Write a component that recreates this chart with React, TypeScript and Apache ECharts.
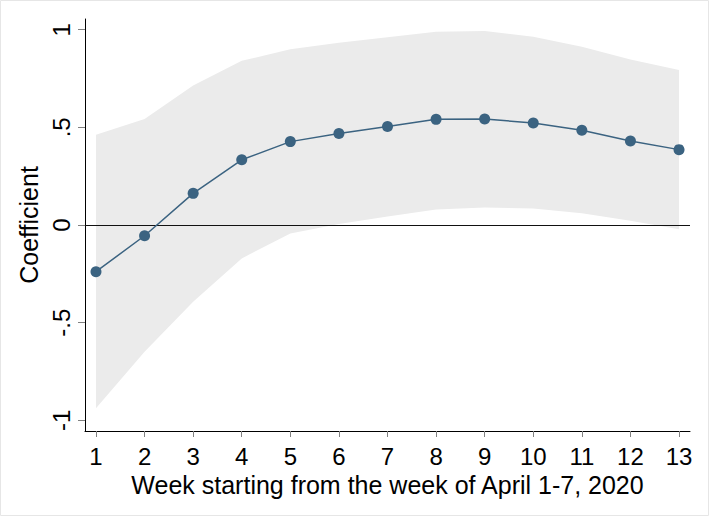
import React, { useEffect, useRef } from "react";
import * as echarts from "echarts";

const weeks = [1, 2, 3, 4, 5, 6, 7, 8, 9, 10, 11, 12, 13];
const coef = [-0.239, -0.055, 0.162, 0.334, 0.427, 0.469, 0.505, 0.541, 0.543, 0.522, 0.485, 0.43, 0.386];
const upper = [0.462, 0.543, 0.715, 0.841, 0.9, 0.933, 0.962, 0.99, 0.993, 0.964, 0.913, 0.848, 0.794];
const lower = [-0.939, -0.649, -0.393, -0.171, -0.043, 0.005, 0.043, 0.08, 0.089, 0.085, 0.06, 0.022, -0.022];
const yTicks = [-1, -0.5, 0, 0.5, 1];
const yTickLabels = ["-1", "-.5", "0", ".5", "1"];
const xTitle = "Week starting from the week of April 1-7, 2020";
const yTitle = "Coefficient";

const FONT = "'Liberation Sans', Arial, sans-serif";

export default function App() {
  const ref = useRef<HTMLDivElement>(null);
  useEffect(() => {
    if (!ref.current) return;
    const chart = echarts.init(ref.current, undefined, { renderer: "svg" });
    chart.setOption({
      animation: false,
      backgroundColor: "#ffffff",
      graphic: [
        {
          type: "rect",
          shape: { x: 0.5, y: 0.5, width: 708, height: 515 },
          style: { fill: "none", stroke: "#e6e6e6", lineWidth: 1 },
          silent: true,
        },
      ],
      grid: { left: 85, right: 19, top: 19, bottom: 85 },
      xAxis: {
        type: "value",
        min: 0.774,
        max: 13.226,
        name: xTitle,
        nameLocation: "middle",
        nameGap: 38,
        nameTextStyle: { fontFamily: FONT, fontSize: 25, color: "#000" },
        axisLine: { show: true, onZero: false, lineStyle: { color: "#000", width: 1 } },
        axisTick: { show: true, length: 6, customValues: weeks, lineStyle: { color: "#808080", width: 1 } },
        axisLabel: {
          customValues: weeks,
          margin: 13,
          fontFamily: FONT,
          fontSize: 24,
          color: "#000",
        },
        splitLine: { show: false },
      },
      yAxis: {
        type: "value",
        min: -1.055,
        max: 1.055,
        name: yTitle,
        nameLocation: "middle",
        nameGap: 37,
        nameTextStyle: { fontFamily: FONT, fontSize: 25, color: "#000" },
        axisLine: { show: true, onZero: false, lineStyle: { color: "#000", width: 1 } },
        axisTick: { show: true, length: 7, customValues: yTicks, lineStyle: { color: "#808080", width: 1 } },
        axisLabel: {
          customValues: yTicks,
          rotate: 90,
          margin: 12,
          fontFamily: FONT,
          fontSize: 24,
          color: "#000",
          formatter: (v: number) => {
            const i = yTicks.findIndex((t) => Math.abs(t - v) < 1e-9);
            return i >= 0 ? yTickLabels[i] : "";
          },
        },
        splitLine: { show: false },
      },
      series: [
        {
          type: "custom",
          name: "ci",
          silent: true,
          z: 1,
          data: weeks.map((w, i) => [w, lower[i], upper[i]]),
          encode: { x: 0, y: [1, 2] },
          renderItem: (params: any, api: any) => {
            if (params.dataIndex !== 0) return null;
            const top = weeks.map((w, i) => api.coord([w, upper[i]]));
            const bot = weeks.map((w, i) => api.coord([w, lower[i]])).reverse();
            return {
              type: "polygon",
              shape: { points: top.concat(bot) },
              style: { fill: "#ebebeb", stroke: "none" },
            };
          },
        },
        {
          type: "line",
          name: "coef",
          data: weeks.map((w, i) => [w, coef[i]]),
          symbol: "circle",
          symbolSize: 11,
          itemStyle: { color: "#3b6381" },
          lineStyle: { color: "#3b6381", width: 1.5 },
          z: 3,
          markLine: {
            silent: true,
            symbol: "none",
            label: { show: false },
            lineStyle: { color: "#111", width: 1.2, type: "solid" },
            data: [{ yAxis: 0 }],
            z: 2,
          },
        },
      ],
    });
    return () => chart.dispose();
  }, []);
  return (
    <div
      ref={ref}
      style={{ position: "fixed", left: 0, top: 0, width: 709, height: 516 }}
    />
  );
}
